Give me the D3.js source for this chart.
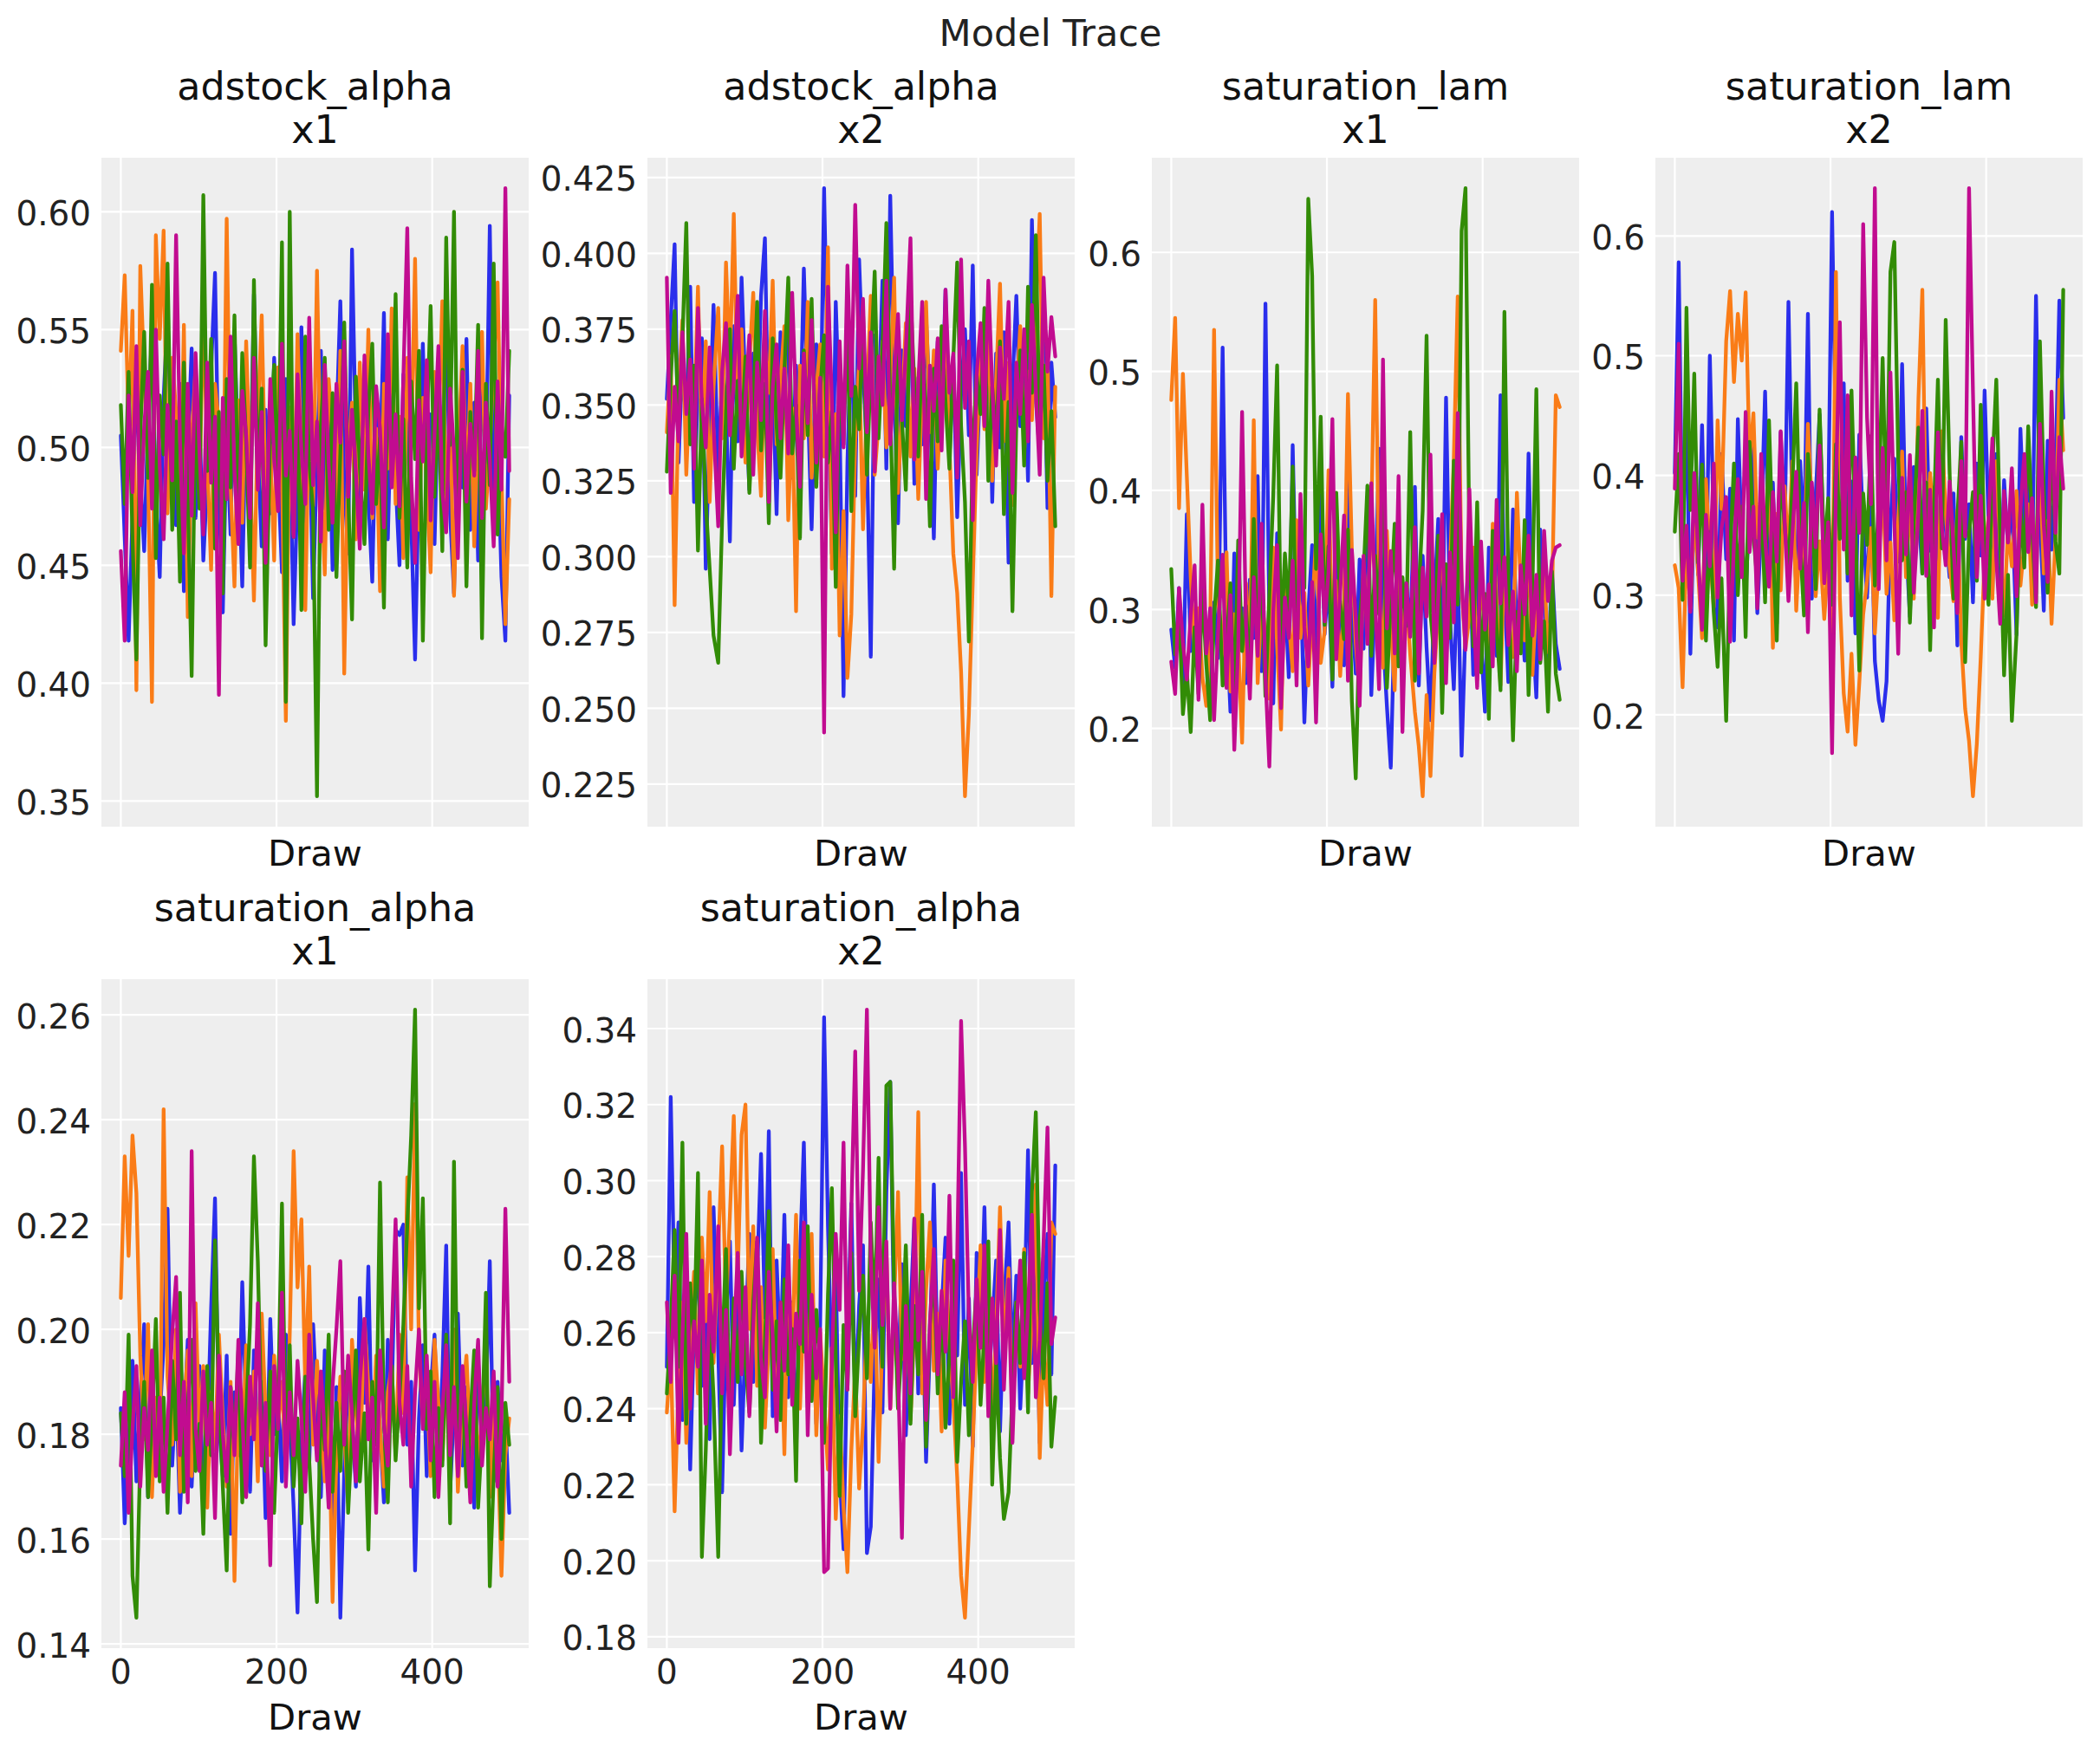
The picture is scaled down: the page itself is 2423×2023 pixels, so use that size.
<!DOCTYPE html>
<html>
<head>
<meta charset="utf-8">
<script src="https://cdn.jsdelivr.net/npm/d3@7"></script>
<style>
  body { margin: 0; background: #fff; }
  text { font-family: "DejaVu Sans", sans-serif; }
</style>
</head>
<body>
<svg id="chart"></svg>
<script>
// chain colours (arviz-darkgrid cycle): chain 0..3
const chainColors = ['#2a2eec', '#fa7c17', '#328c06', '#c10c90'];

const varNames = ['adstock_alpha', 'adstock_alpha', 'saturation_lam', 'saturation_lam', 'saturation_alpha', 'saturation_alpha'];
const channels = ['x1', 'x2', 'x1', 'x2', 'x1', 'x2'];

const xTicks = [0, 200, 400];
const yTicks = [
  [0.35, 0.40, 0.45, 0.50, 0.55, 0.60],
  [0.225, 0.250, 0.275, 0.300, 0.325, 0.350, 0.375, 0.400, 0.425],
  [0.2, 0.3, 0.4, 0.5, 0.6],
  [0.2, 0.3, 0.4, 0.5, 0.6],
  [0.14, 0.16, 0.18, 0.20, 0.22, 0.24, 0.26],
  [0.18, 0.20, 0.22, 0.24, 0.26, 0.28, 0.30, 0.32, 0.34]
];
const yTickFormats = ['.2f', '.3f', '.1f', '.1f', '.2f', '.2f'];

// thinned traces, 100 samples per chain over draws 0..499
const adstockX1 = [
  [0.505,0.462,0.418,0.471,0.530,0.488,0.456,0.512,0.549,0.478,0.445,0.521,0.556,0.493,0.467,0.527,0.439,0.498,0.542,0.470,
   0.515,0.452,0.486,0.533,0.574,0.481,0.430,0.507,0.463,0.548,0.495,0.441,0.522,0.475,0.565,0.499,0.458,0.516,0.472,0.538,
   0.490,0.447,0.529,0.504,0.425,0.483,0.551,0.468,0.513,0.436,0.497,0.541,0.474,0.520,0.448,0.509,0.562,0.484,0.455,0.584,
   0.501,0.466,0.535,0.479,0.443,0.518,0.492,0.557,0.461,0.527,0.486,0.450,0.531,0.506,0.469,0.410,0.489,0.544,0.477,0.514,
   0.459,0.525,0.496,0.563,0.472,0.438,0.508,0.483,0.546,0.465,0.519,0.452,0.537,0.488,0.594,0.476,0.503,0.445,0.418,0.522],
  [0.541,0.573,0.509,0.558,0.397,0.577,0.531,0.489,0.392,0.590,0.546,0.592,0.472,0.538,0.515,0.467,0.552,0.428,0.503,0.534,
   0.479,0.561,0.495,0.448,0.527,0.510,0.459,0.597,0.484,0.441,0.520,0.468,0.545,0.493,0.435,0.512,0.556,0.477,0.501,0.452,
   0.534,0.489,0.384,0.517,0.463,0.548,0.496,0.431,0.523,0.475,0.575,0.487,0.446,0.529,0.505,0.466,0.541,0.404,0.497,0.519,
   0.461,0.536,0.482,0.550,0.470,0.508,0.439,0.527,0.491,0.559,0.476,0.513,0.453,0.538,0.499,0.580,0.465,0.521,0.484,0.447,
   0.532,0.506,0.562,0.471,0.518,0.437,0.494,0.543,0.480,0.527,0.458,0.511,0.549,0.474,0.500,0.535,0.570,0.488,0.425,0.478],
  [0.518,0.476,0.532,0.461,0.410,0.505,0.549,0.487,0.569,0.453,0.522,0.497,0.578,0.465,0.511,0.443,0.536,0.480,0.403,0.521,
   0.474,0.607,0.490,0.546,0.457,0.515,0.438,0.529,0.483,0.556,0.468,0.540,0.502,0.449,0.571,0.486,0.525,0.416,0.508,0.535,
   0.478,0.587,0.392,0.600,0.462,0.519,0.431,0.547,0.494,0.473,0.352,0.509,0.538,0.465,0.523,0.445,0.498,0.553,0.481,0.427,
   0.530,0.492,0.459,0.516,0.544,0.476,0.504,0.432,0.539,0.487,0.565,0.470,0.512,0.449,0.528,0.495,0.541,0.418,0.507,0.560,
   0.479,0.524,0.456,0.589,0.501,0.600,0.468,0.533,0.441,0.515,0.490,0.552,0.419,0.527,0.484,0.578,0.463,0.510,0.496,0.541],
  [0.456,0.418,0.522,0.481,0.543,0.467,0.509,0.532,0.474,0.550,0.492,0.461,0.518,0.486,0.590,0.503,0.455,0.527,0.471,0.540,
   0.498,0.463,0.536,0.485,0.513,0.395,0.521,0.478,0.547,0.490,0.459,0.524,0.505,0.470,0.538,0.482,0.515,0.451,0.529,0.496,
   0.473,0.544,0.488,0.507,0.462,0.531,0.499,0.476,0.555,0.484,0.511,0.460,0.535,0.493,0.468,0.527,0.502,0.545,0.479,0.516,
   0.489,0.457,0.539,0.497,0.472,0.526,0.508,0.466,0.548,0.483,0.514,0.475,0.530,0.593,0.487,0.451,0.520,0.494,0.537,0.469,
   0.506,0.543,0.481,0.464,0.525,0.498,0.453,0.532,0.477,0.510,0.488,0.541,0.470,0.519,0.495,0.458,0.528,0.482,0.610,0.490]
];

const adstockX2 = [
  [0.352,0.378,0.403,0.331,0.365,0.342,0.389,0.318,0.356,0.372,0.296,0.344,0.383,0.327,0.361,0.349,0.305,0.376,0.338,0.392,
   0.354,0.322,0.367,0.341,0.386,0.405,0.333,0.359,0.314,0.374,0.347,0.381,0.326,0.363,0.339,0.395,0.352,0.309,0.370,0.336,
   0.4215,0.357,0.301,0.384,0.344,0.254,0.331,0.377,0.320,0.398,0.362,0.335,0.267,0.373,0.348,0.391,0.329,0.419,0.356,0.311,
   0.368,0.343,0.385,0.324,0.359,0.337,0.379,0.350,0.306,0.371,0.345,0.388,0.332,0.366,0.313,0.354,0.375,0.340,0.396,0.327,
   0.361,0.349,0.382,0.318,0.367,0.336,0.374,0.298,0.357,0.386,0.343,0.369,0.325,0.411,0.352,0.334,0.378,0.316,0.364,0.346],
  [0.341,0.366,0.284,0.352,0.378,0.327,0.360,0.345,0.389,0.334,0.371,0.318,0.356,0.382,0.339,0.397,0.362,0.413,0.348,0.375,
   0.331,0.364,0.387,0.343,0.320,0.369,0.354,0.391,0.337,0.358,0.376,0.312,0.349,0.282,0.363,0.339,0.384,0.326,0.355,0.370,
   0.333,0.402,0.296,0.347,0.274,0.315,0.260,0.281,0.338,0.365,0.309,0.352,0.386,0.327,0.344,0.371,0.336,0.359,0.392,0.321,
   0.348,0.377,0.333,0.362,0.319,0.355,0.384,0.341,0.368,0.329,0.357,0.374,0.336,0.301,0.288,0.262,0.221,0.248,0.292,0.335,
   0.366,0.342,0.379,0.325,0.358,0.390,0.338,0.364,0.317,0.351,0.376,0.334,0.361,0.345,0.380,0.413,0.339,0.368,0.287,0.356],
  [0.328,0.359,0.381,0.344,0.371,0.410,0.337,0.363,0.302,0.352,0.318,0.296,0.274,0.265,0.312,0.347,0.375,0.329,0.358,0.338,
   0.366,0.321,0.349,0.384,0.335,0.357,0.311,0.372,0.343,0.326,0.361,0.392,0.334,0.350,0.306,0.368,0.340,0.385,0.323,0.355,
   0.373,0.331,0.348,0.290,0.364,0.337,0.379,0.315,0.356,0.342,0.381,0.327,0.363,0.394,0.339,0.368,0.410,0.349,0.296,0.374,
   0.345,0.322,0.387,0.356,0.333,0.370,0.349,0.310,0.362,0.338,0.376,0.351,0.329,0.365,0.397,0.343,0.318,0.272,0.336,0.360,
   0.347,0.382,0.325,0.356,0.339,0.371,0.314,0.351,0.282,0.345,0.368,0.330,0.389,0.354,0.406,0.341,0.363,0.325,0.348,0.310],
  [0.392,0.321,0.356,0.338,0.374,0.347,0.365,0.329,0.382,0.351,0.336,0.369,0.343,0.310,0.361,0.377,0.340,0.358,0.386,0.333,
   0.352,0.373,0.327,0.364,0.345,0.381,0.318,0.356,0.370,0.339,0.362,0.334,0.387,0.349,0.323,0.367,0.344,0.378,0.331,0.359,
   0.242,0.389,0.352,0.308,0.371,0.336,0.396,0.353,0.416,0.362,0.385,0.341,0.374,0.328,0.366,0.350,0.391,0.337,0.359,0.380,
   0.345,0.368,0.405,0.332,0.357,0.384,0.319,0.363,0.348,0.372,0.335,0.388,0.354,0.367,0.326,0.398,0.349,0.371,0.312,0.360,
   0.377,0.343,0.391,0.356,0.330,0.369,0.352,0.384,0.321,0.364,0.347,0.375,0.338,0.383,0.355,0.327,0.392,0.361,0.379,0.366]
];

const saturationLamX1 = [
  [0.283,0.251,0.318,0.232,0.380,0.265,0.296,0.241,0.337,0.274,0.225,0.306,0.259,0.520,0.289,0.214,0.347,0.262,0.301,0.238,
   0.325,0.276,0.412,0.248,0.557,0.293,0.221,0.364,0.270,0.315,0.243,0.438,0.286,0.332,0.205,0.297,0.354,0.258,0.396,0.279,
   0.327,0.235,0.371,0.290,0.253,0.418,0.303,0.246,0.342,0.267,0.389,0.228,0.311,0.435,0.277,0.219,0.167,0.296,0.358,0.249,
   0.322,0.281,0.403,0.236,0.345,0.268,0.207,0.309,0.376,0.255,0.478,0.293,0.233,0.340,0.177,0.286,0.361,0.245,0.327,0.272,
   0.214,0.352,0.296,0.261,0.480,0.318,0.239,0.384,0.275,0.304,0.257,0.431,0.288,0.226,0.367,0.312,0.248,0.335,0.271,0.250],
  [0.476,0.545,0.385,0.498,0.412,0.327,0.265,0.301,0.243,0.219,0.284,0.535,0.312,0.257,0.348,0.231,0.296,0.274,0.188,0.322,
   0.263,0.459,0.238,0.307,0.281,0.225,0.352,0.269,0.199,0.331,0.290,0.248,0.375,0.276,0.314,0.236,0.298,0.361,0.255,0.282,
   0.417,0.266,0.324,0.244,0.306,0.481,0.350,0.272,0.229,0.338,0.291,0.376,0.560,0.315,0.251,0.366,0.287,0.232,0.344,0.273,
   0.309,0.262,0.214,0.185,0.143,0.228,0.160,0.246,0.301,0.356,0.279,0.335,0.427,0.563,0.318,0.267,0.294,0.352,0.241,0.325,
   0.288,0.253,0.372,0.305,0.236,0.343,0.282,0.260,0.398,0.319,0.274,0.356,0.245,0.311,0.289,0.336,0.264,0.302,0.480,0.470],
  [0.334,0.262,0.301,0.212,0.248,0.197,0.285,0.229,0.316,0.254,0.207,0.293,0.341,0.236,0.270,0.322,0.219,0.358,0.265,0.303,
   0.244,0.376,0.281,0.330,0.227,0.312,0.395,0.505,0.268,0.347,0.299,0.420,0.256,0.371,0.318,0.645,0.580,0.334,0.462,0.287,
   0.353,0.241,0.398,0.306,0.275,0.367,0.223,0.158,0.290,0.329,0.404,0.261,0.345,0.296,0.438,0.234,0.308,0.372,0.252,0.327,
   0.286,0.449,0.240,0.315,0.383,0.530,0.297,0.259,0.362,0.213,0.338,0.276,0.425,0.304,0.618,0.654,0.352,0.269,0.390,0.247,
   0.313,0.208,0.366,0.284,0.232,0.550,0.325,0.190,0.298,0.263,0.375,0.228,0.319,0.485,0.255,0.290,0.214,0.332,0.246,0.224],
  [0.256,0.229,0.318,0.272,0.241,0.295,0.337,0.224,0.388,0.263,0.301,0.207,0.279,0.346,0.234,0.312,0.182,0.269,0.466,0.288,
   0.225,0.327,0.261,0.372,0.243,0.168,0.298,0.354,0.217,0.310,0.276,0.341,0.236,0.397,0.285,0.252,0.323,0.205,0.363,0.290,
   0.331,0.460,0.258,0.314,0.379,0.240,0.350,0.292,0.219,0.345,0.271,0.406,0.306,0.233,0.510,0.284,0.349,0.263,0.412,0.197,
   0.322,0.277,0.369,0.246,0.335,0.294,0.430,0.255,0.311,0.380,0.238,0.348,0.289,0.465,0.326,0.266,0.401,0.301,0.234,0.357,
   0.283,0.321,0.252,0.392,0.305,0.344,0.270,0.315,0.248,0.337,0.296,0.362,0.278,0.329,0.258,0.366,0.307,0.341,0.352,0.354]
];

const saturationLamX2 = [
  [0.402,0.578,0.336,0.463,0.251,0.384,0.317,0.442,0.296,0.500,0.355,0.273,0.418,0.330,0.389,0.262,0.447,0.346,0.301,0.372,
   0.425,0.285,0.358,0.470,0.322,0.394,0.276,0.436,0.348,0.545,0.368,0.309,0.412,0.340,0.535,0.297,0.383,0.451,0.324,0.366,
   0.620,0.421,0.351,0.477,0.312,0.395,0.268,0.434,0.357,0.298,0.388,0.245,0.212,0.195,0.228,0.361,0.414,0.328,0.493,0.345,
   0.282,0.407,0.372,0.318,0.456,0.337,0.390,0.301,0.428,0.356,0.315,0.385,0.258,0.432,0.347,0.376,0.294,0.410,0.333,0.471,
   0.362,0.303,0.418,0.286,0.396,0.341,0.378,0.267,0.439,0.352,0.394,0.316,0.550,0.370,0.287,0.429,0.338,0.402,0.546,0.448],
  [0.325,0.306,0.223,0.341,0.289,0.372,0.318,0.264,0.397,0.335,0.290,0.446,0.372,0.512,0.554,0.478,0.535,0.496,0.553,0.413,
   0.452,0.348,0.387,0.313,0.426,0.256,0.368,0.304,0.391,0.335,0.412,0.287,0.354,0.318,0.443,0.376,0.299,0.345,0.280,0.329,
   0.262,0.570,0.298,0.218,0.186,0.251,0.175,0.227,0.284,0.312,0.356,0.268,0.327,0.398,0.301,0.344,0.279,0.362,0.420,0.315,
   0.388,0.297,0.464,0.555,0.336,0.402,0.353,0.281,0.437,0.369,0.324,0.295,0.371,0.262,0.205,0.178,0.132,0.176,0.248,0.331,
   0.365,0.297,0.412,0.339,0.283,0.356,0.324,0.387,0.308,0.343,0.376,0.292,0.335,0.410,0.318,0.362,0.276,0.347,0.480,0.421],
  [0.353,0.418,0.296,0.540,0.371,0.485,0.327,0.409,0.262,0.353,0.286,0.240,0.314,0.195,0.335,0.410,0.300,0.374,0.265,0.428,
   0.349,0.312,0.381,0.294,0.446,0.338,0.262,0.407,0.359,0.321,0.392,0.477,0.344,0.283,0.418,0.370,0.305,0.455,0.331,0.381,
   0.292,0.426,0.347,0.400,0.318,0.471,0.356,0.237,0.385,0.342,0.433,0.308,0.379,0.498,0.352,0.570,0.595,0.414,0.329,0.386,
   0.277,0.361,0.440,0.318,0.394,0.254,0.372,0.480,0.339,0.530,0.403,0.297,0.365,0.428,0.244,0.351,0.386,0.312,0.459,0.335,
   0.292,0.407,0.480,0.349,0.233,0.317,0.195,0.268,0.374,0.323,0.441,0.356,0.290,0.512,0.387,0.302,0.427,0.345,0.318,0.555],
  [0.389,0.510,0.312,0.358,0.286,0.402,0.335,0.271,0.367,0.324,0.410,0.298,0.356,0.382,0.261,0.343,0.397,0.315,0.453,0.336,
   0.374,0.289,0.418,0.346,0.307,0.386,0.328,0.437,0.364,0.295,0.351,0.403,0.322,0.377,0.269,0.394,0.340,0.425,0.310,0.361,
   0.168,0.392,0.528,0.338,0.467,0.283,0.415,0.352,0.610,0.448,0.376,0.640,0.305,0.423,0.329,0.486,0.362,0.251,0.398,0.334,
   0.417,0.302,0.369,0.454,0.316,0.388,0.273,0.436,0.357,0.325,0.395,0.341,0.285,0.412,0.349,0.640,0.470,0.315,0.383,0.297,
   0.362,0.431,0.330,0.276,0.387,0.344,0.406,0.299,0.372,0.418,0.336,0.381,0.294,0.443,0.358,0.311,0.470,0.352,0.432,0.389]
];

const saturationAlphaX1 = [
  [0.185,0.163,0.178,0.194,0.171,0.187,0.201,0.168,0.192,0.176,0.183,0.197,0.223,0.174,0.189,0.165,0.181,0.198,0.170,0.186,
   0.193,0.167,0.179,0.204,0.225,0.182,0.172,0.195,0.161,0.188,0.176,0.209,0.184,0.169,0.196,0.178,0.190,0.164,0.202,0.180,
   0.187,0.171,0.199,0.183,0.166,0.146,0.179,0.192,0.174,0.201,0.185,0.168,0.196,0.177,0.160,0.189,0.145,0.173,0.191,0.182,
   0.170,0.206,0.186,0.212,0.175,0.193,0.181,0.167,0.198,0.187,0.219,0.218,0.220,0.178,0.190,0.154,0.183,0.197,0.172,0.188,
   0.199,0.176,0.191,0.216,0.169,0.185,0.203,0.174,0.189,0.180,0.166,0.194,0.178,0.186,0.213,0.171,0.190,0.175,0.183,0.165],
  [0.206,0.233,0.214,0.237,0.226,0.195,0.179,0.201,0.168,0.187,0.174,0.242,0.191,0.178,0.200,0.169,0.184,0.196,0.172,0.205,
   0.181,0.193,0.166,0.188,0.177,0.199,0.183,0.170,0.190,0.152,0.186,0.175,0.197,0.180,0.192,0.171,0.203,0.184,0.176,0.195,
   0.182,0.190,0.173,0.199,0.234,0.208,0.221,0.189,0.212,0.178,0.194,0.183,0.171,0.187,0.148,0.176,0.191,0.180,0.167,0.198,
   0.185,0.173,0.202,0.189,0.177,0.195,0.181,0.170,0.188,0.193,0.176,0.199,0.184,0.229,0.200,0.243,0.196,0.182,0.190,0.172,
   0.198,0.186,0.175,0.192,0.181,0.200,0.169,0.187,0.195,0.178,0.191,0.173,0.184,0.197,0.168,0.188,0.179,0.153,0.176,0.183],
  [0.184,0.172,0.199,0.153,0.145,0.176,0.190,0.168,0.183,0.202,0.171,0.187,0.165,0.194,0.179,0.207,0.169,0.185,0.198,0.173,
   0.182,0.161,0.193,0.176,0.217,0.188,0.170,0.154,0.189,0.178,0.196,0.167,0.184,0.201,0.233,0.213,0.180,0.173,0.192,0.165,
   0.186,0.224,0.176,0.197,0.170,0.183,0.163,0.191,0.175,0.160,0.148,0.188,0.177,0.199,0.169,0.186,0.173,0.192,0.165,0.180,
   0.196,0.171,0.184,0.158,0.190,0.178,0.228,0.182,0.167,0.193,0.175,0.187,0.201,0.220,0.237,0.261,0.204,0.225,0.181,0.192,
   0.168,0.185,0.174,0.199,0.163,0.232,0.179,0.190,0.170,0.183,0.196,0.166,0.180,0.207,0.151,0.172,0.189,0.160,0.186,0.178],
  [0.174,0.188,0.165,0.181,0.193,0.170,0.185,0.177,0.196,0.172,0.187,0.169,0.182,0.199,0.210,0.176,0.190,0.167,0.234,0.181,
   0.173,0.192,0.178,0.186,0.164,0.195,0.180,0.171,0.189,0.176,0.198,0.183,0.168,0.191,0.179,0.205,0.174,0.186,0.155,0.193,
   0.181,0.207,0.170,0.188,0.176,0.194,0.183,0.169,0.199,0.187,0.175,0.192,0.180,0.166,0.189,0.200,0.213,0.178,0.195,0.184,
   0.171,0.190,0.202,0.179,0.187,0.165,0.196,0.182,0.174,0.199,0.221,0.186,0.178,0.193,0.170,0.188,0.200,0.181,0.195,0.175,
   0.190,0.168,0.184,0.197,0.176,0.189,0.172,0.193,0.181,0.167,0.186,0.198,0.174,0.185,0.179,0.192,0.170,0.183,0.223,0.190]
];

const saturationAlphaX2 = [
  [0.251,0.322,0.268,0.289,0.237,0.275,0.224,0.262,0.281,0.246,0.270,0.232,0.293,0.255,0.218,0.263,0.284,0.241,0.272,0.229,
   0.259,0.286,0.247,0.275,0.307,0.264,0.313,0.238,0.279,0.252,0.291,0.243,0.268,0.227,0.280,0.310,0.256,0.271,0.236,0.262,
   0.343,0.288,0.249,0.276,0.223,0.203,0.258,0.294,0.240,0.267,0.283,0.202,0.209,0.253,0.274,0.239,0.297,0.326,0.261,0.248,
   0.278,0.233,0.265,0.290,0.244,0.271,0.226,0.257,0.299,0.250,0.266,0.285,0.236,0.273,0.254,0.302,0.241,0.269,0.230,0.281,
   0.258,0.293,0.245,0.262,0.279,0.234,0.267,0.289,0.251,0.275,0.240,0.263,0.308,0.252,0.277,0.231,0.268,0.286,0.249,0.304],
  [0.239,0.255,0.213,0.247,0.268,0.231,0.259,0.276,0.244,0.285,0.263,0.297,0.252,0.281,0.309,0.266,0.291,0.317,0.274,0.312,
   0.320,0.261,0.288,0.246,0.272,0.235,0.258,0.282,0.243,0.265,0.228,0.277,0.254,0.291,0.240,0.268,0.249,0.286,0.233,0.260,
   0.242,0.224,0.256,0.211,0.238,0.214,0.197,0.229,0.251,0.219,0.236,0.264,0.247,0.273,0.226,0.259,0.282,0.240,0.268,0.297,
   0.253,0.276,0.237,0.262,0.318,0.244,0.271,0.289,0.250,0.265,0.234,0.279,0.257,0.242,0.222,0.196,0.185,0.208,0.231,0.258,
   0.283,0.247,0.270,0.238,0.261,0.293,0.255,0.277,0.236,0.268,0.251,0.282,0.244,0.263,0.299,0.227,0.256,0.241,0.289,0.286],
  [0.244,0.262,0.287,0.251,0.310,0.236,0.273,0.258,0.302,0.201,0.229,0.265,0.243,0.201,0.254,0.282,0.236,0.269,0.247,0.276,
   0.252,0.239,0.268,0.284,0.231,0.257,0.292,0.245,0.263,0.237,0.274,0.249,0.261,0.221,0.279,0.255,0.288,0.242,0.266,0.250,
   0.231,0.270,0.298,0.253,0.217,0.262,0.245,0.281,0.238,0.259,0.275,0.248,0.289,0.264,0.306,0.251,0.325,0.326,0.271,0.240,
   0.258,0.283,0.236,0.267,0.249,0.291,0.230,0.262,0.277,0.244,0.269,0.235,0.254,0.279,0.226,0.247,0.263,0.233,0.256,0.272,
   0.241,0.260,0.284,0.220,0.252,0.227,0.211,0.218,0.245,0.268,0.252,0.281,0.239,0.297,0.318,0.266,0.248,0.273,0.230,0.243],
  [0.268,0.247,0.275,0.231,0.259,0.286,0.240,0.263,0.251,0.279,0.236,0.270,0.255,0.288,0.244,0.266,0.228,0.257,0.281,0.249,
   0.272,0.238,0.262,0.285,0.253,0.243,0.276,0.259,0.234,0.268,0.250,0.283,0.241,0.265,0.257,0.289,0.233,0.270,0.248,0.261,
   0.197,0.198,0.252,0.286,0.266,0.310,0.245,0.292,0.334,0.271,0.303,0.345,0.279,0.256,0.293,0.262,0.284,0.240,0.273,0.251,
   0.206,0.267,0.244,0.290,0.258,0.276,0.237,0.263,0.282,0.249,0.271,0.255,0.296,0.243,0.280,0.342,0.309,0.264,0.247,0.274,
   0.256,0.283,0.238,0.269,0.252,0.287,0.245,0.274,0.231,0.261,0.279,0.248,0.266,0.291,0.243,0.258,0.284,0.314,0.257,0.264]
];

const panels = [adstockX1, adstockX2, saturationLamX1, saturationLamX2, saturationAlphaX1, saturationAlphaX2];

// draw index of each thinned sample
const draws = d3.range(100).map(i => Math.round(i * 499 / 99));

// ---- layout ----
const width = 2423, height = 2023;
const colLeft = [117, 747, 1329, 1910];
const rowTop = [182, 1130];
const axW = 493, axH = 772;
const tickSize = 38.9, labelSize = 41.7, titleSize = 44.4;

const svg = d3.select('#chart')
  .attr('width', width)
  .attr('height', height)
  .style('background-color', '#fff');

svg.append('text')
  .text('Model Trace')
  .attr('x', 1212)
  .attr('y', 53)
  .attr('text-anchor', 'middle')
  .style('font-size', '43px')
  .style('fill', '#222');

panels.forEach((chains, p) => {
  const row = Math.floor(p / 4), col = p % 4;
  const left = colLeft[col], top = rowTop[row];
  const showXLabels = p >= 4;

  const allVals = chains.flat();
  const [lo, hi] = d3.extent(allVals);
  const pad = (hi - lo) * 0.05;

  const x = d3.scaleLinear().domain([-24.95, 523.95]).range([0, axW]);
  const y = d3.scaleLinear().domain([lo - pad, hi + pad]).range([axH, 0]);

  const g = svg.append('g').attr('transform', `translate(${left},${top})`);

  g.append('rect')
    .attr('width', axW)
    .attr('height', axH)
    .style('fill', '#eeeeee');

  // grid
  g.selectAll('.ygrid')
    .data(yTicks[p])
    .enter()
    .append('line')
    .attr('x1', 0).attr('x2', axW)
    .attr('y1', d => y(d)).attr('y2', d => y(d))
    .style('stroke', '#fff')
    .style('stroke-width', 2.2);

  g.selectAll('.xgrid')
    .data(xTicks)
    .enter()
    .append('line')
    .attr('y1', 0).attr('y2', axH)
    .attr('x1', d => x(d)).attr('x2', d => x(d))
    .style('stroke', '#fff')
    .style('stroke-width', 2.2);

  // traces
  const line = d3.line()
    .x((d, i) => x(draws[i]))
    .y(d => y(d));

  g.selectAll('.trace')
    .data(chains)
    .enter()
    .append('path')
    .attr('d', line)
    .style('fill', 'none')
    .style('stroke', (d, i) => chainColors[i])
    .style('stroke-width', 4.3)
    .style('stroke-linejoin', 'round')
    .style('stroke-linecap', 'round');

  // y tick labels
  const fmt = d3.format(yTickFormats[p]);
  g.selectAll('.ylab')
    .data(yTicks[p])
    .enter()
    .append('text')
    .text(d => fmt(d))
    .attr('x', -12)
    .attr('y', d => y(d) + tickSize * 0.4)
    .attr('text-anchor', 'end')
    .style('font-size', tickSize + 'px')
    .style('fill', '#222');

  if (showXLabels) {
    g.selectAll('.xlab')
      .data(xTicks)
      .enter()
      .append('text')
      .text(d => d)
      .attr('x', d => x(d))
      .attr('y', axH + 41)
      .attr('text-anchor', 'middle')
      .style('font-size', tickSize + 'px')
      .style('fill', '#222');
  }

  g.append('text')
    .text('Draw')
    .attr('x', axW / 2)
    .attr('y', axH + (showXLabels ? 94 : 45))
    .attr('text-anchor', 'middle')
    .style('font-size', labelSize + 'px')
    .style('fill', '#111');

  // two-line title
  g.append('text')
    .text(varNames[p])
    .attr('x', axW / 2)
    .attr('y', -67)
    .attr('text-anchor', 'middle')
    .style('font-size', titleSize + 'px')
    .style('fill', '#111');
  g.append('text')
    .text(channels[p])
    .attr('x', axW / 2)
    .attr('y', -17)
    .attr('text-anchor', 'middle')
    .style('font-size', titleSize + 'px')
    .style('fill', '#111');
});
</script>
</body>
</html>
